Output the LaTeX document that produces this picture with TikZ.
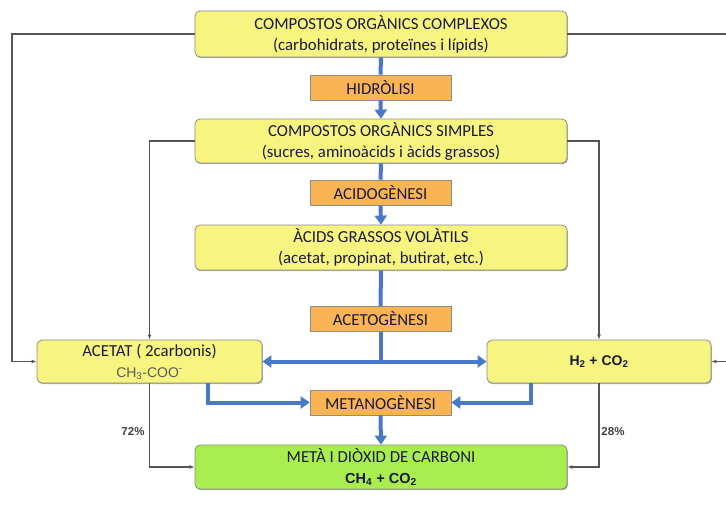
\documentclass[tikz,border=0pt]{standalone}
\usepackage{fontspec}
\setmainfont{Carlito}
\newfontfamily\arialfont{Liberation Sans}
\usetikzlibrary{arrows.meta,shadows}
\definecolor{boxyellow}{HTML}{F7F47F}
\definecolor{boxorange}{HTML}{FBB454}
\definecolor{boxgreen}{HTML}{A8EE4F}
\definecolor{flowblue}{HTML}{4A78C8}
\definecolor{linegray}{HTML}{555555}
\definecolor{textink}{HTML}{1A1A3A}
\tikzset{
  stage/.style={draw=black!45, line width=0.8pt, fill=boxyellow, rounded corners=5pt,
    align=center, inner sep=0pt, drop shadow={shadow xshift=0.8pt, shadow yshift=-1.2pt, opacity=0.7}},
  process/.style={draw=black!45, line width=0.6pt, fill=boxorange, align=center, inner sep=0pt,
    minimum width=141pt, minimum height=25pt},
  flow/.style={draw=flowblue, line width=4pt},
  flowarrow/.style={flow, -{Triangle[length=9pt,width=12pt]}},
  feed/.style={draw=linegray, line width=1.1pt, -{Latex[length=5pt,width=4pt]}},
  share/.style={font=\arialfont\bfseries\fontsize{11.5}{13}\selectfont, text=black!75}
}
\begin{document}
\begin{tikzpicture}[x=1pt,y=-1pt,font=\fontsize{16.8}{21}\selectfont,text=textink]
  \useasboundingbox (0,0) rectangle (726,504);

  % Drawing main stages
  \node [stage, minimum width=372pt, minimum height=46pt] (complex) at (381,34)
    {COMPOSTOS ORGÀNICS COMPLEXOS\\(carbohidrats, proteïnes i lípids)};
  \node [stage, minimum width=372pt, minimum height=44pt] (simple) at (381,141)
    {COMPOSTOS ORGÀNICS SIMPLES\\(sucres, aminoàcids i àcids grassos)};
  \node [stage, minimum width=372pt, minimum height=45pt] (acids) at (381,247.5)
    {ÀCIDS GRASSOS VOLÀTILS\\(acetat, propinat, butirat, etc.)};
  \node [stage, minimum width=225pt, minimum height=43pt] (acetat) at (149.5,361.5)
    {ACETAT ( 2carbonis)\\{\arialfont\fontsize{14}{16}\selectfont\color{black!65}CH\textsubscript{3}-COO\textsuperscript{-}}};
  \node [stage, minimum width=224pt, minimum height=43pt] (h2) at (599,361.5)
    {\arialfont\bfseries\fontsize{14}{16}\selectfont H\textsubscript{2} + CO\textsubscript{2}};
  \node [stage, fill=boxgreen, minimum width=372pt, minimum height=44pt] (meta) at (381,467)
    {METÀ I DIÒXID DE CARBONI\\{\arialfont\bfseries\fontsize{14.5}{16}\selectfont CH\textsubscript{4} + CO\textsubscript{2}}};

  % Drawing process steps
  \node [process] (hidro) at (380.5,87.5) {HIDRÒLISI};
  \node [process] (acido) at (380.5,192.5) {ACIDOGÈNESI};
  \node [process] (aceto) at (380.5,319) {ACETOGÈNESI};
  \node [process] (metano) at (380.5,402.5) {METANOGÈNESI};

  % Drawing blue flow
  \draw [flow] (complex.south) -- (hidro.north);
  \draw [flowarrow] (hidro.south) -- (simple.north);
  \draw [flow] (simple.south) -- (acido.north);
  \draw [flowarrow] (acido.south) -- (acids.north);
  \draw [flow] (acids.south) -- (aceto.north);
  \coordinate (split) at (aceto.south |- acetat.east);
  \draw [flow] (aceto.south) -- (split);
  \draw [flowarrow] (split) -- (acetat.east);
  \draw [flowarrow] (split) -- (h2.west);
  \draw [flowarrow] ([xshift=58pt]acetat.south) |- (metano.west);
  \draw [flowarrow] ([xshift=-68pt]h2.south) |- (metano.east);
  \draw [flowarrow] (metano.south) -- (meta.north);

  % Drawing side lines
  \coordinate (lx) at (12,34);
  \coordinate (rx) at (740,34);
  \draw [feed] (complex.west) -- (lx) |- (acetat.west);
  \draw [feed] (complex.east) -- (rx) |- (h2.east);
  \draw [feed] (simple.west) -| (acetat.north);
  \draw [feed] (simple.east) -| (h2.north);
  \draw [feed] (acetat.south) |- (meta.west);
  \draw [feed] (h2.south) |- (meta.east);

  % Marking shares
  \node [share] (share72) at (133,432) {72\%};
  \node [share] (share28) at (613,432) {28\%};
\end{tikzpicture}
\end{document}
